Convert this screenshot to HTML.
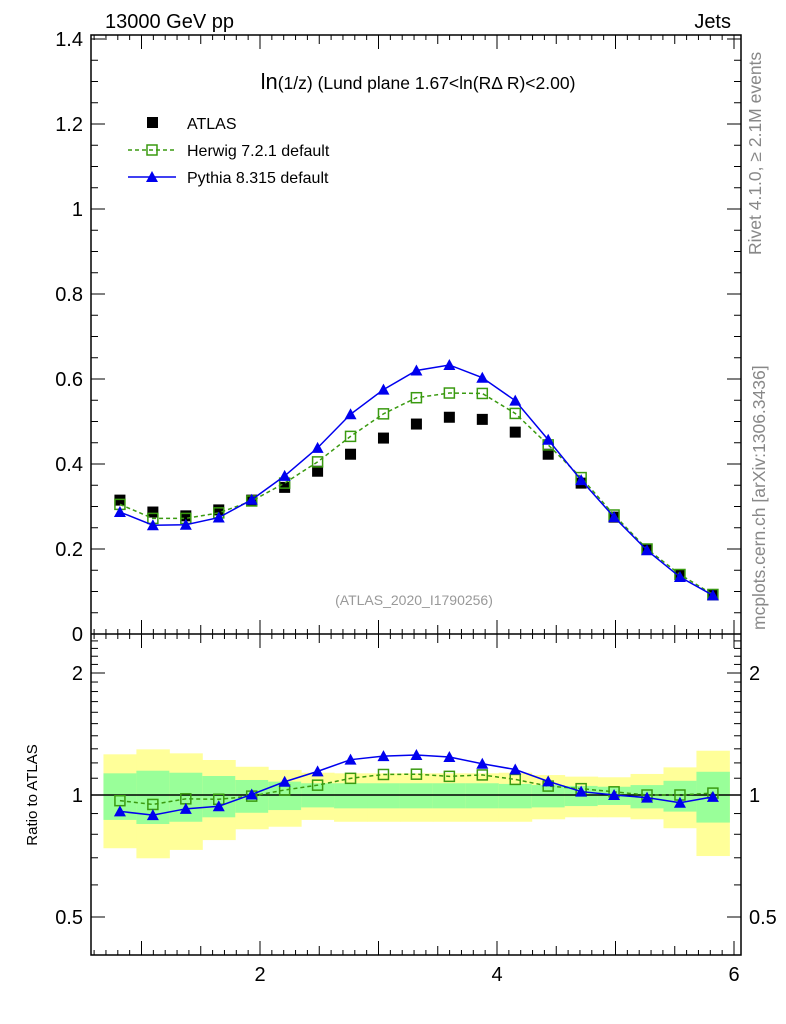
<!DOCTYPE html>
<html><head><meta charset="utf-8"><style>
body{margin:0;background:#fff;}
svg{display:block;font-family:"Liberation Sans",sans-serif;}
</style></head><body>
<svg id="c" width="786" height="1024" viewBox="0 0 786 1024">
<g id="bands"></g>
<g id="marks"></g>
<g id="axes"></g>
<text x="105" y="28" font-size="20">13000 GeV pp</text>
<text x="731" y="28" font-size="20" text-anchor="end">Jets</text>
<text x="418" y="89" font-size="17.5" text-anchor="middle"><tspan font-size="22">ln</tspan>(1/z) (Lund plane 1.67&lt;ln(RΔ R)&lt;2.00)</text>
<text x="414" y="605" font-size="14" fill="#999" text-anchor="middle">(ATLAS_2020_I1790256)</text>
<text transform="translate(761,255) rotate(-90)" font-size="17.5" fill="#888">Rivet 4.1.0, ≥ 2.1M events</text>
<text transform="translate(765,630) rotate(-90)" font-size="17.5" fill="#888">mcplots.cern.ch [arXiv:1306.3436]</text>
<text transform="translate(37,795) rotate(-90)" font-size="15" text-anchor="middle">Ratio to ATLAS</text>
<g>
<rect x="147" y="117" width="11" height="11" fill="#000"/>
<text x="187" y="129" font-size="16">ATLAS</text>
<line x1="128" y1="150" x2="176" y2="150" stroke="#3a9a10" stroke-width="1.5" stroke-dasharray="4,3"/>
<rect x="147" y="145" width="10" height="10" fill="none" stroke="#3a9a10" stroke-width="1.5"/>
<text x="187" y="156" font-size="16">Herwig 7.2.1 default</text>
<line x1="128" y1="177" x2="176" y2="177" stroke="#0000ee" stroke-width="1.5"/>
<polygon points="152,171 158,182 146,182" fill="#0000ee"/>
<text x="187" y="183" font-size="16">Pythia 8.315 default</text>
</g>
</svg>
<script>
const xCenters=[0.818,1.096,1.374,1.652,1.93,2.208,2.486,2.764,3.042,3.32,3.598,3.876,4.154,4.432,4.71,4.988,5.266,5.544,5.822];
const atlas=[0.315,0.287,0.278,0.292,0.315,0.345,0.383,0.423,0.461,0.494,0.51,0.505,0.475,0.423,0.355,0.275,0.2,0.14,0.092];
const herwig=[0.305,0.272,0.272,0.285,0.313,0.355,0.405,0.465,0.518,0.556,0.567,0.566,0.519,0.445,0.368,0.28,0.2,0.14,0.093];
const pythia=[0.287,0.256,0.257,0.274,0.316,0.372,0.438,0.517,0.575,0.62,0.633,0.603,0.549,0.457,0.362,0.275,0.197,0.134,0.091];
const yellowHi=[1.26,1.296,1.267,1.22,1.174,1.153,1.135,1.131,1.131,1.131,1.131,1.131,1.135,1.12,1.11,1.106,1.127,1.17,1.286];
const yellowLo=[0.739,0.698,0.732,0.774,0.823,0.835,0.868,0.859,0.859,0.859,0.859,0.859,0.859,0.871,0.881,0.881,0.871,0.828,0.707];
const greenHi=[1.131,1.148,1.135,1.114,1.089,1.079,1.069,1.069,1.069,1.069,1.069,1.069,1.065,1.058,1.053,1.048,1.058,1.084,1.141];
const greenLo=[0.868,0.848,0.859,0.881,0.904,0.918,0.932,0.927,0.927,0.927,0.927,0.927,0.927,0.932,0.939,0.945,0.927,0.91,0.855];
const mainTicks=["0","0.2","0.4","0.6","0.8","1","1.2","1.4"];
const xTicks=["2","4","6"];
const ratioTicks=["0.5","1","2"];
const binW=0.278;
const X0=91,X1=741,T=35,MB=634,RB=955;
const xs=v=>260+(v-2)*118.5;
const ym=v=>634-v*425;
const yr=v=>795-Math.log2(v)*122;
const NS="http://www.w3.org/2000/svg";
function mk(tag,at,parent){const e=document.createElementNS(NS,tag);for(const k in at)e.setAttribute(k,at[k]);document.getElementById(parent).appendChild(e);return e;}
xCenters.forEach((c,i)=>{
 const a=xs(c-binW/2),b=xs(c+binW/2);
 let r=mk('rect',{x:a,y:yr(yellowHi[i]),width:b-a+0.5,height:yr(yellowLo[i])-yr(yellowHi[i]),fill:'#ffff99'},'bands');
 
 
 r=mk('rect',{x:a,y:yr(greenHi[i]),width:b-a+0.5,height:yr(greenLo[i])-yr(greenHi[i]),fill:'#99ff99'},'bands');
 
 
});
let l=mk('line',{x1:X0,x2:X1,y1:yr(1),y2:yr(1),stroke:'#000','stroke-width':1.5},'marks');


function series(vals,ymap,color,dash,kind,name){
 const p=mk('polyline',{points:vals.map((v,i)=>xs(xCenters[i])+','+ymap(v,i)).join(' '),fill:'none',stroke:color,'stroke-width':1.5,'stroke-dasharray':dash},'marks');
 
 
 vals.forEach((v,i)=>{const x=xs(xCenters[i]),y=ymap(v,i);let m;
  if(kind==='sq')m=mk('rect',{x:x-5,y:y-5,width:10,height:10,fill:'none',stroke:color,'stroke-width':1.5},'marks');
  else m=mk('polygon',{points:`${x},${y-6} ${x+6},${y+5} ${x-6},${y+5}`,fill:color},'marks');
  
  });
}
atlas.forEach((v,i)=>{const m=mk('rect',{x:xs(xCenters[i])-5.5,y:ym(v)-5.5,width:11,height:11,fill:'#000'},'marks');
 
 });
series(herwig,v=>ym(v),'#3a9a10','4,3','sq','herwig');
series(pythia,v=>ym(v),'#0000ee','','tri','pythia');
series(herwig,(v,i)=>yr(v/atlas[i]),'#3a9a10','4,3','sq','herwig-ratio');
series(pythia,(v,i)=>yr(v/atlas[i]),'#0000ee','','tri','pythia-ratio');
const f=mk('rect',{x:X0,y:T,width:X1-X0,height:RB-T,fill:'none',stroke:'#000','stroke-width':1.5},'axes');


const s=mk('line',{x1:X0,x2:X1,y1:MB,y2:MB,stroke:'#000','stroke-width':1.5},'axes');


function tk(x1,y1,x2,y2){mk('line',{x1,y1,x2,y2,stroke:'#000','stroke-width':1},'axes');}
function lab(x,y,t,anchor,name){const e=mk('text',{x,y,'font-size':20,'text-anchor':anchor},'axes');e.textContent=t;
 
 }
for(let v=0;v<=1.4001;v+=0.05){const y=ym(v);const maj=Math.abs(v*5-Math.round(v*5))<1e-6;const L=maj?14:7;tk(X0,y,X0+L,y);tk(X1,y,X1-L,y);}
mainTicks.forEach(t=>lab(83,ym(+t)+7,t,'end','main-y-tick-label'));
for(let v=0.1;v<=6.05;v+=0.1){const x=xs(v);if(x<X0||x>X1)continue;const maj=Math.abs(v-Math.round(v))<1e-6;const half=Math.abs(v*2-Math.round(v*2))<1e-6;const L=maj?14:(half?9:5);
 tk(x,MB,x,MB-L);tk(x,T,x,T+L);tk(x,RB,x,RB-L);tk(x,MB,x,MB+L);}
xTicks.forEach(t=>lab(xs(+t),981,t,'middle','x-tick-label'));
for(let v=0.5;v<=2.5;v+=0.1){const y=yr(v);if(y<MB||y>RB)continue;const maj=[0.5,1,2].some(m=>Math.abs(v-m)<1e-6);const L=maj?14:7;tk(X0,y,X0+L,y);tk(X1,y,X1-L,y);}
ratioTicks.forEach(t=>{lab(83,yr(+t)+7,t,'end','ratio-y-tick-label');lab(749,yr(+t)+7,t,'start','ratio-y-tick-label-right');});
</script>
</body></html>
